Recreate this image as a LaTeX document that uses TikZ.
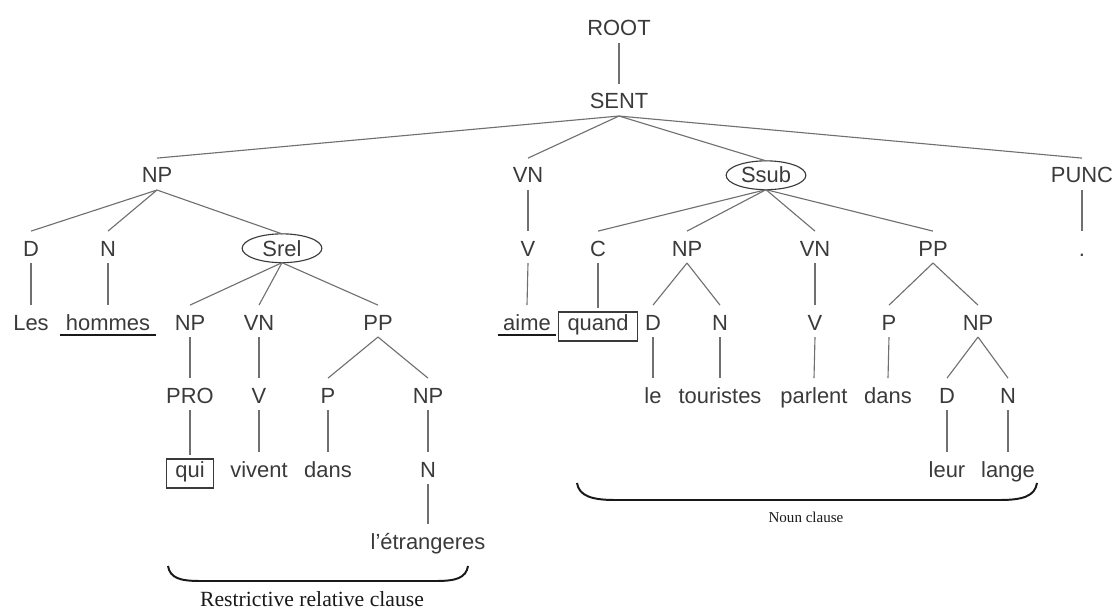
\documentclass[tikz,border=0pt]{standalone}
\usepackage{fontspec}
\setmainfont{Liberation Sans}
\newfontfamily\bracefont{Liberation Serif}
\usetikzlibrary{shapes.geometric}
\definecolor{linegray}{RGB}{112, 112, 112}
\definecolor{textgray}{RGB}{58, 58, 58}
\definecolor{inkblack}{RGB}{25, 25, 25}
\tikzset{
  cat/.style={rectangle, anchor=base, text=textgray, font=\fontsize{15.6}{18}\selectfont,
    text height=15.7pt, text depth=3pt, inner xsep=1pt, inner ysep=1pt, outer sep=1pt},
  boxed/.style={cat, draw=textgray, line width=0.8pt, text height=10.8pt, text depth=5.8pt,
    inner xsep=6.4pt, inner ysep=2pt, outer xsep=0pt, outer ysep=3pt},
  oval/.style={cat, ellipse, draw=textgray, line width=0.8pt, text height=11pt, text depth=0pt,
    inner sep=0pt, outer sep=0pt, minimum width=56.7pt, minimum height=20.5pt},
  branch/.style={draw=linegray, line width=0.8pt},
  uline/.style={draw=inkblack, line width=1.8pt},
  clausebrace/.style={draw=inkblack, line width=1.4pt},
  bracelabel/.style={anchor=base, text=inkblack, inner sep=0pt, font=\bracefont\fontsize{15.4}{18}\selectfont}
}

\begin{document}
\begin{tikzpicture}[x=0.025cm, y=-0.025cm]
\useasboundingbox (0,0) rectangle (1113,611);

% top of the tree
\node[cat](root) at (619,36){ROOT};
\node[cat](sent) at (619,109){SENT};
\draw[branch] (root.south) -- (sent.north);

\node[cat](np) at (157,183){NP};
\node[cat](vn) at (528,183){VN};
\node[oval](ssub) at (766,183){Ssub};
\node[cat](punc) at (1082,183){PUNC};
\draw[branch] (sent.south) -- (np.north);
\draw[branch] (sent.south) -- (vn.north);
\draw[branch] (sent.south) -- (ssub.north);
\draw[branch] (sent.south) -- (punc.north);

% subject with relative clause
\node[cat](d) at (31,256){D};
\node[cat](n) at (108,256){N};
\node[oval](srel) at (282,256){Srel};
\draw[branch] (np.south) -- (d.north);
\draw[branch] (np.south) -- (n.north);
\draw[branch] (np.south) -- (srel.north);

\node[cat](les) at (31,330){Les};
\node[cat](hommes) at (108,330){hommes};
\draw[branch] (d.south) -- (les.north);
\draw[branch] (n.south) -- (hommes.north);
\draw[uline] ([xshift=-2pt,yshift=-3.5pt]hommes.base west) -- ([xshift=2pt,yshift=-3.5pt]hommes.base east);

\node[cat](np3) at (190,330){NP};
\node[cat](vn3) at (259,330){VN};
\node[cat](pp2) at (378,330){PP};
\draw[branch] (srel.south) -- (np3.north);
\draw[branch] (srel.south) -- (vn3.north);
\draw[branch] (srel.south) -- (pp2.north);

\node[cat](pro) at (190,403){PRO};
\node[cat](v3) at (259,403){V};
\node[cat](p2) at (328,403){P};
\node[cat](np5) at (428,403){NP};
\draw[branch] (np3.south) -- (pro.north);
\draw[branch] (vn3.south) -- (v3.north);
\draw[branch] (pp2.south) -- (p2.north);
\draw[branch] (pp2.south) -- (np5.north);

\node[boxed](qui) at (190,477){qui};
\node[cat](vivent) at (259,477){vivent};
\node[cat](dans2) at (328,477){dans};
\node[cat](n4) at (428,477){N};
\node[cat](etrangeres) at (428,549){l’étrangeres};
\draw[branch] (pro.south) -- (qui.north);
\draw[branch] (v3.south) -- (vivent.north);
\draw[branch] (p2.south) -- (dans2.north);
\draw[branch] (np5.south) -- (n4.north);
\draw[branch] (n4.south) -- (etrangeres.north);

% verb
\node[cat](v) at (528,256){V};
\node[cat](aime) at (527,330){aime};
\draw[branch] (vn.south) -- (v.north);
\draw[branch] (v.south) -- (aime.north);
\draw[uline] ([xshift=-2pt,yshift=-3.5pt]aime.base west) -- ([xshift=2pt,yshift=-3.5pt]aime.base east);

% subordinate clause
\node[cat](c) at (598,256){C};
\node[cat](np2) at (687,256){NP};
\node[cat](vn2) at (815,256){VN};
\node[cat](pp) at (933,256){PP};
\draw[branch] (ssub.south) -- (c.north);
\draw[branch] (ssub.south) -- (np2.north);
\draw[branch] (ssub.south) -- (vn2.north);
\draw[branch] (ssub.south) -- (pp.north);

\node[boxed](quand) at (598,330){quand};
\node[cat](d2) at (653,330){D};
\node[cat](n2) at (720,330){N};
\node[cat](v2) at (815,330){V};
\node[cat](p) at (889,330){P};
\node[cat](np4) at (978,330){NP};
\draw[branch] (c.south) -- (quand.north);
\draw[branch] (np2.south) -- (d2.north);
\draw[branch] (np2.south) -- (n2.north);
\draw[branch] (vn2.south) -- (v2.north);
\draw[branch] (pp.south) -- (p.north);
\draw[branch] (pp.south) -- (np4.north);

\node[cat](le) at (653,403){le};
\node[cat](touristes) at (720,403){touristes};
\node[cat](parlent) at (814,403){parlent};
\node[cat](dans) at (888,403){dans};
\node[cat](d3) at (947,403){D};
\node[cat](n3) at (1008,403){N};
\draw[branch] (d2.south) -- (le.north);
\draw[branch] (n2.south) -- (touristes.north);
\draw[branch] (v2.south) -- (parlent.north);
\draw[branch] (p.south) -- (dans.north);
\draw[branch] (np4.south) -- (d3.north);
\draw[branch] (np4.south) -- (n3.north);

\node[cat](leur) at (947,477){leur};
\node[cat](lange) at (1008,477){lange};
\draw[branch] (d3.south) -- (leur.north);
\draw[branch] (n3.south) -- (lange.north);

% punctuation
\node[cat](dot) at (1082,256){.};
\draw[branch] (punc.south) -- (dot.north);

% clause braces
\coordinate (relleft) at (168,566);
\coordinate (relright) at (468,566);
\draw[clausebrace] (relleft) .. controls (170,578) and (180,581) .. (200,581) -- (436,581) .. controls (456,581) and (466,578) .. (relright);
\node[bracelabel](rellabel) at (312,606){Restrictive relative clause};

\coordinate (nounleft) at (577,483);
\coordinate (nounright) at (1037,483);
\draw[clausebrace] (nounleft) .. controls (579,496) and (592,500) .. (615,500) -- (1000,500) .. controls (1023,500) and (1035,496) .. (nounright);
\node[bracelabel, font=\bracefont\fontsize{10.7}{12}\selectfont](nounlabel) at (806,522){Noun clause};

\end{tikzpicture}
\end{document}
